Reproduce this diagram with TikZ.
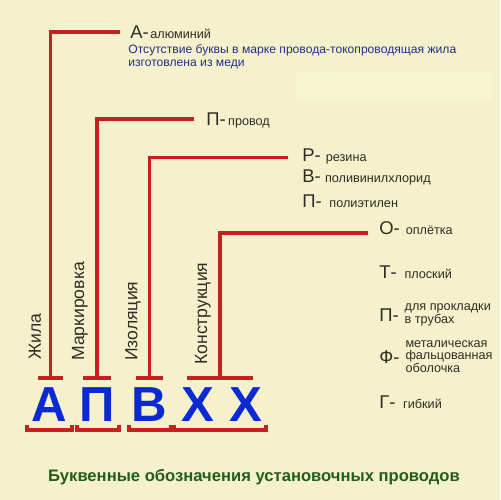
\documentclass[tikz,border=0pt]{standalone}
\usepackage{fontspec}
\setmainfont{Liberation Sans}
\usetikzlibrary{positioning}
\definecolor{paper}{RGB}{245,241,204}
\definecolor{paperlight}{RGB}{248,245,211}
\definecolor{wirered}{RGB}{200,32,30}
\definecolor{letterblue}{RGB}{12,42,212}
\definecolor{noteblue}{RGB}{36,46,140}
\definecolor{titlegreen}{RGB}{36,94,26}
\definecolor{ink}{RGB}{48,45,38}

\begin{document}
\begin{tikzpicture}[
  x=0.02cm, y=-0.02cm,
  wire/.style={draw=wirered, line width=1.8pt},
  bar/.style={rectangle, fill=wirered, inner sep=0pt, minimum height=1.8pt},
  bigletter/.style={font=\fontsize{28}{28}\selectfont\bfseries, text=letterblue, inner sep=0pt},
  catlabel/.style={font=\fontsize{10}{12}\selectfont, text=ink, rotate=90, anchor=west, inner sep=0pt},
  keyletter/.style={font=\fontsize{10.5}{12}\selectfont, text=ink, inner sep=0pt, anchor=west},
  keytext/.style={font=\fontsize{7.2}{7.2}\selectfont, text=ink, inner sep=0pt, align=left},
  note/.style={font=\fontsize{6.9}{7.4}\selectfont, text=noteblue, inner sep=0pt, anchor=north west, align=left}
]
\useasboundingbox[fill=paper] (0,0) rectangle (500,500);
\fill[paperlight] (296,72) rectangle (492,100);

% letters of the mark
\node[bigletter] (lA) at (49.5,405) {А};
\node[bigletter] (lP) at (97.5,405) {П};
\node[bigletter] (lV) at (149,405) {В};
\node[bigletter] (lX1) at (197.5,405) {Х};
\node[bigletter] (lX2) at (246,405) {Х};

\node[bar, minimum width=0.5cm] (barA) at (50.5,378) {};
\node[bar, minimum width=0.56cm] (barP) at (97,378) {};
\node[bar, minimum width=0.54cm] (barV) at (149.5,378) {};
\node[bar, minimum width=1.32cm] (barK) at (220,378) {};

\foreach \a/\b in {27/72, 77/119, 129/171, 174/266}
  \draw[wire] (\a,425) -- (\a,430) -- (\b,430) -- (\b,425);

\node[catlabel] (cA) at (35,360) {Жила};
\node[catlabel] (cP) at (80,361) {Маркировка};
\node[catlabel] (cV) at (133,361) {Изоляция};
\node[catlabel] (cK) at (203,365) {Конструкция};

% keys
\node[keyletter] (kA) at (130,32) {А-};
\node[keytext, base right=0.5pt of kA] (tA) {алюминий};
\node[note] (nA) at (128,44) {Отсутствие буквы в марке провода-токопроводящая жила\\изготовлена из меди};

\node[keyletter] (kP) at (206,119) {П-};
\node[keytext, base right=1pt of kP] (tP) {провод};

\node[keyletter] (kR) at (302,155) {Р-};
\node[keytext, base right=2.5pt of kR] (tR) {резина};
\node[keyletter] (kV) at (302,176) {В-};
\node[keytext, base right=2pt of kV] (tV) {поливинилхлорид};
\node[keyletter] (kE) at (302,201) {П-};
\node[keytext, base right=4pt of kE] (tE) {полиэтилен};

\node[keyletter] (kO) at (379,228) {О-};
\node[keytext, base right=3pt of kO] (tO) {оплётка};
\node[keyletter] (kT) at (379,272) {Т-};
\node[keytext, base right=4pt of kT] (tT) {плоский};
\node[keyletter] (kL) at (379,315) {П-};
\node[keytext, right=3pt of kL] (tL) {для прокладки\\в трубах};
\node[keyletter] (kF) at (379,357) {Ф-};
\node[keytext, right=3pt of kF, font=\fontsize{7.2}{6.3}\selectfont] (tF) {металическая\\фальцованная\\оболочка};
\node[keyletter] (kG) at (379,402) {Г-};
\node[keytext, base right=4pt of kG] (tG) {гибкий};

\draw[wire] (barA.center) |- ([xshift=-5.5pt]kA.west);
\draw[wire] (barP.center) |- ([xshift=-7pt]kP.west);
\draw[wire] (barV.center) |- ([xshift=-8pt,yshift=-1.6pt]kR.west);
\draw[wire] (barK.center) |- ([xshift=-6pt,yshift=-2.8pt]kO.west);

\node[font=\fontsize{9.45}{11}\selectfont\bfseries, text=titlegreen] (title) at (254,477) {Буквенные обозначения установочных проводов};
\end{tikzpicture}
\end{document}
